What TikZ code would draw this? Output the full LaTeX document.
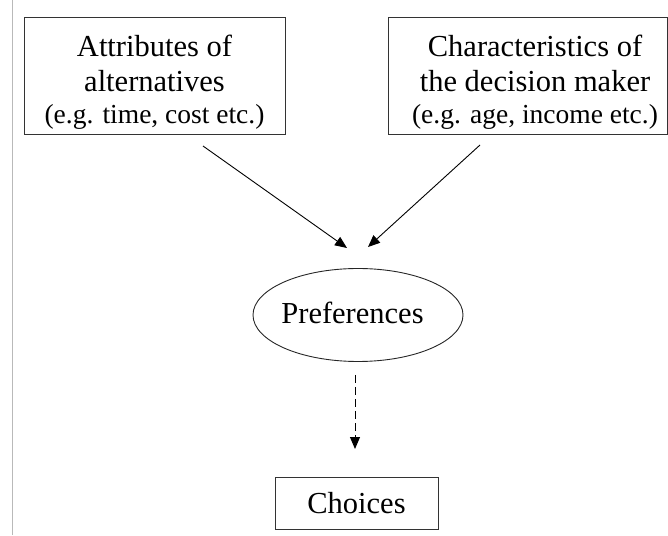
\documentclass[tikz,border=0pt]{standalone}
\usepackage{fontspec}
\setmainfont{Liberation Serif}
\usetikzlibrary{arrows.meta,shapes.geometric}
\tikzset{
  boxframe/.style={draw=black!80, line width=1pt, minimum width=#1, inner sep=0pt},
  maintext/.style={font=\fontsize{30.5}{35}\selectfont, anchor=base, inner sep=0pt},
  subtext/.style={font=\fontsize{27.5}{31}\selectfont, anchor=base, inner sep=0pt},
  conn/.style={line width=0.9pt, -{Triangle[length=12pt,width=10pt]}},
}
\begin{document}
\begin{tikzpicture}[x=1pt,y=1pt]
\useasboundingbox (0,0) rectangle (668,535);
\draw[gray!55, line width=1.2pt] (12.5,0) -- (12.5,535);
% boxes
\node[boxframe=261pt, minimum height=117pt] (attr) at (154.5,458.5) {};
\node[boxframe=279pt, minimum height=117pt] (chars) at (527.5,458.5) {};
\node[maintext] (attr1) at (154.5,478) {Attributes of};
\node[maintext] (attr2) at (154.5,443) {alternatives};
\node[subtext] (attr3) at (154.5,411) {(e.g. time, cost etc.)};
\node[maintext] (chars1) at (535,478) {Characteristics of};
\node[maintext] (chars2) at (535,443) {the decision maker};
\node[subtext] (chars3) at (535,411) {(e.g. age, income etc.)};
% preferences
\node[draw=black!85, line width=0.9pt, ellipse, minimum width=210pt, minimum height=93pt, inner sep=0pt] (pref) at (358,220) {};
\node[maintext] (preftext) at (352.5,211) {Preferences};
% choices
\node[boxframe=163pt, minimum height=52pt] (choice) at (356.5,32) {};
\node[maintext] (choicetext) at (356.5,22) {Choices};
% connectors
\coordinate (a0) at (203,389);
\coordinate (a1) at (347,287);
\coordinate (b0) at (480,390);
\coordinate (b1) at (368,288);
\coordinate (c0) at (355,160);
\coordinate (c1) at (355,86);
\draw[conn] (a0) -- (a1);
\draw[conn] (b0) -- (b1);
\draw[conn, line width=1pt, dash pattern=on 8pt off 4pt] (c0) -- (c1);
\end{tikzpicture}
\end{document}
